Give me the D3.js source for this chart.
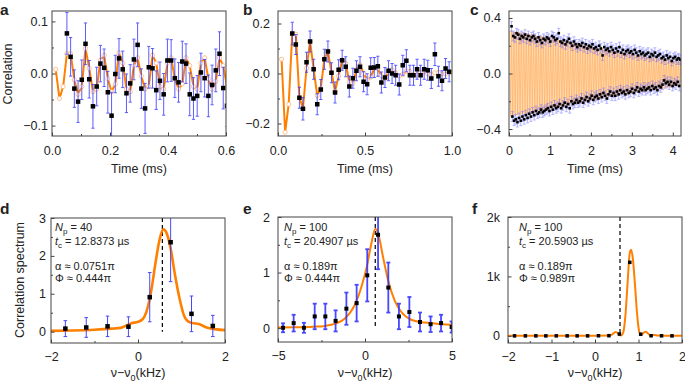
<!DOCTYPE html>
<html>
<head>
<meta charset="utf-8">
<script src="https://cdn.jsdelivr.net/npm/d3@7"></script>
<style>
body { margin: 0; background: #fff; }
svg text { font-family: "Liberation Sans", Arial, sans-serif; fill: #222; }
</style>
</head>
<body>
<svg id="fig" width="685" height="384"></svg>
<script>
// sampling intervals (ms) as printed in the panels
var tcA = 0.0128373, tcB = 0.0204907, tcC = 0.0205903;

// panel a : measured correlation from sample n=4, model from n=1
var aData = [0.077,0.032,-0.029,-0.054,-0.012,0.057,-0.011,-0.063,-0.025,0.019,0.011,-0.036,-0.081,-0.001,0.029,0.008,-0.038,-0.019,0.027,0.055,-0.029,-0.067,0.012,0.010,-0.032,-0.014,-0.040,0.025,0.025,-0.009,-0.017,0.023,0.019,-0.040,-0.048,-0.043,0.002,-0.009,-0.043,-0.022,0.006,0.038,-0.028,-0.062];
var aErr = [0.040,0.037,0.036,0.040,0.038,0.040,0.036,0.042,0.037,0.035,0.036,0.040,0.045,0.036,0.038,0.035,0.037,0.036,0.039,0.042,0.038,0.048,0.040,0.038,0.037,0.036,0.040,0.041,0.040,0.037,0.038,0.039,0.038,0.041,0.040,0.039,0.037,0.036,0.040,0.038,0.041,0.042,0.040,0.040];
var aModel = [0.008,-0.048,-0.025,0.038,0.038,-0.012,-0.040,-0.025,0.048,0.010,-0.035,-0.030,0.025,0.035,-0.010,-0.035,-0.020,0.040,0.020,-0.030,-0.035,0.015,0.030,-0.005,-0.030,-0.025,0.035,0.020,-0.025,-0.030,0.020,0.030,-0.010,-0.030,-0.020,0.030,0.015,-0.025,-0.030,0.020,0.030,-0.010,-0.030,-0.015,0.030,0.015,-0.025];

// panel b
var bData = [0.160,0.116,-0.097,-0.141,0.045,0.128,0.017,-0.123,-0.064,0.057,0.088,0.003,-0.076,0.015,0.053,0.027,-0.052,-0.019,0.011,0.027,-0.033,-0.043,0.023,0.024,0.029,-0.036,-0.016,0.011,0.000,-0.007,-0.044,0.033,0.051,-0.007,-0.007,0.017,-0.007,0.017,0.013,-0.020,0.077,-0.011,-0.029,0.020,0.007];
var bErr = [0.045,0.040,0.042,0.045,0.040,0.042,0.040,0.042,0.040,0.040,0.042,0.040,0.042,0.040,0.040,0.040,0.042,0.040,0.040,0.040,0.040,0.042,0.040,0.040,0.040,0.042,0.040,0.040,0.040,0.040,0.042,0.040,0.044,0.040,0.040,0.040,0.040,0.040,0.040,0.040,0.045,0.040,0.040,0.040,0.040];
var bModel = [0.057,-0.235,-0.123,0.161,0.157,-0.096,-0.139,0.021,0.128,0.018,-0.088,-0.059,0.058,0.088,0.005,-0.072,-0.010,0.054,0.040,-0.035,-0.040,0.015,0.035,0.000,-0.025,-0.015,0.020,0.020,-0.010,-0.020,0.005,0.015,0.002,-0.010,-0.005,0.010,0.008,-0.005,-0.006,0.004,0.006,-0.002,-0.004,0.003,0.004,-0.002,-0.002,0.002,0.002];

// panel c : upper points at odd samples from n=3, lower at even samples from n=4
var cUp = [0.34,0.27,0.26,0.29,0.28,0.25,0.27,0.26,0.28,0.25,
  0.27,0.24,0.26,0.27,0.25,0.23,0.26,0.24,0.22,0.25,
  0.24,0.26,0.25,0.23,0.27,0.26,0.24,0.25,0.29,0.23,
  0.22,0.24,0.21,0.23,0.25,0.22,0.20,0.23,0.21,0.19,
  0.21,0.20,0.22,0.19,0.21,0.18,0.20,0.19,0.21,0.18,
  0.19,0.17,0.20,0.18,0.13,0.19,0.17,0.18,0.16,0.19,
  0.17,0.15,0.18,0.16,0.19,0.15,0.17,0.14,0.16,0.17,
  0.15,0.16,0.14,0.17,0.15,0.13,0.16,0.14,0.15,0.13,
  0.14,0.15,0.12,0.14,0.13,0.15,0.12,0.13,0.14,0.11,
  0.12,0.10,0.13,0.11,0.12,0.09,0.11,0.12,0.10,0.11,
  0.10];
var cLow = [-0.31,-0.34,-0.33,-0.35,-0.32,-0.34,-0.31,-0.33,-0.30,-0.32,
  -0.29,-0.31,-0.28,-0.30,-0.27,-0.29,-0.28,-0.26,-0.28,-0.27,
  -0.26,-0.25,-0.27,-0.24,-0.26,-0.23,-0.25,-0.24,-0.22,-0.25,
  -0.23,-0.21,-0.24,-0.22,-0.25,-0.20,-0.22,-0.21,-0.19,-0.21,
  -0.20,-0.18,-0.21,-0.19,-0.17,-0.20,-0.18,-0.16,-0.19,-0.17,
  -0.16,-0.18,-0.15,-0.17,-0.14,-0.16,-0.18,-0.15,-0.13,-0.16,
  -0.14,-0.16,-0.13,-0.15,-0.12,-0.14,-0.13,-0.15,-0.12,-0.14,
  -0.13,-0.11,-0.14,-0.12,-0.10,-0.13,-0.11,-0.12,-0.10,-0.12,
  -0.11,-0.10,-0.12,-0.09,-0.11,-0.10,-0.12,-0.09,-0.10,-0.08,
  -0.05,-0.07,-0.06,-0.08,-0.06,-0.09,-0.07,-0.08,-0.06,-0.09];
var cErr = 0.035;
var cModel = [
  .31,-.31,.31,-.31,.30,-.30,.30,-.30,.30,-.30,.30,-.30,.30,-.30,.29,-.29,.29,-.29,.29,-.29,
  .29,-.29,.29,-.29,.28,-.28,.28,-.28,.28,-.28,.28,-.28,.27,-.27,.27,-.27,.27,-.27,.27,-.27,
  .27,-.27,.26,-.26,.26,-.26,.26,-.26,.25,-.25,.25,-.25,.25,-.25,.25,-.25,.24,-.24,.24,-.24,
  .24,-.24,.24,-.24,.23,-.23,.23,-.23,.23,-.23,.23,-.23,.22,-.22,.22,-.22,.22,-.22,.22,-.22,
  .22,-.22,.21,-.21,.21,-.21,.21,-.21,.20,-.20,.20,-.20,.20,-.20,.20,-.20,.19,-.19,.19,-.19,
  .19,-.19,.19,-.19,.18,-.18,.18,-.18,.18,-.18,.18,-.18,.17,-.17,.17,-.17,.17,-.17,.17,-.17,
  .17,-.17,.16,-.16,.16,-.16,.16,-.16,.16,-.16,.15,-.15,.15,-.15,.15,-.15,.15,-.15,.15,-.15,
  .15,-.15,.14,-.14,.14,-.14,.14,-.14,.14,-.14,.13,-.13,.13,-.13,.13,-.13,.13,-.13,.13,-.13,
  .13,-.13,.12,-.12,.12,-.12,.12,-.12,.12,-.12,.12,-.12,.11,-.11,.11,-.11,.11,-.11,.11,-.11,
  .11,-.11,.11,-.11,.10,-.10,.10,-.10,.10,-.10,.10,-.10,.10,-.10,.09,-.09,.09,-.09,.09,-.09,
  .09,-.09,.09,-.09];

// panel d
var dFreq = [-1.67,-1.19,-0.70,-0.22,0.27,0.75,1.23,1.72];
var dVal = [0.08,0.11,0.14,0.13,0.91,2.36,0.47,0.15];
var dErr = [0.21,0.26,0.27,0.26,0.65,1.04,0.47,0.28];
var dFitX = [-2,-1.5,-1.0,-0.6,-0.4,-0.25,-0.15,0.0,0.1,0.2,0.3,0.4,0.5,0.58,0.65,0.75,0.85,0.95,1.05,1.15,1.25,1.4,1.6,1.8,2.0];
var dFitY = [0.02,0.03,0.05,0.08,0.1,0.17,0.22,0.26,0.32,0.55,1.05,1.8,2.45,2.7,2.62,2.2,1.5,0.9,0.45,0.27,0.23,0.2,0.1,0.06,0.04];

// panel e
var eFreq = [-4.71,-4.10,-3.51,-2.89,-2.28,-1.69,-1.07,-0.48,0.13,0.75,1.34,1.95,2.55,3.16,3.77,4.37,4.98];
var eVal = [0.006,0.09,0.006,0.21,0.21,0.13,0.35,0.45,0.95,1.68,0.73,0.21,0.29,0.11,0.07,0.09,0.02];
var eErr = [0.08,0.15,0.09,0.23,0.23,0.19,0.29,0.33,0.47,0.62,0.45,0.23,0.27,0.17,0.14,0.15,0.10];
var eFitX = [-5,-4,-3,-2.3,-1.7,-1.17,-0.6,-0.2,0.1,0.35,0.6,0.8,1.03,1.32,1.7,2.09,2.66,3.2,3.8,4.4,5];
var eFitY = [0.01,0.015,0.025,0.04,0.08,0.17,0.41,0.75,1.1,1.5,1.79,1.65,1.29,0.87,0.5,0.29,0.15,0.11,0.09,0.07,0.06];

// panel f
var fFreq = [-1.85,-1.60,-1.36,-1.13,-0.89,-0.64,-0.41,-0.17,0.08,0.32,0.56,0.80,1.05,1.29,1.53,1.77];
var fVal = [0,0,0,0,0,0,0,0,2,3,30,1237,28,2,1,0];
var fFitX = [-2,-1,0,0.3,0.4,0.47,0.55,0.6,0.65,0.7,0.75,0.8,0.83,0.87,0.92,0.97,1.02,1.06,1.1,1.16,1.22,1.28,1.35,1.45,1.6,2];
var fFitY = [0,0,2,5,25,65,35,5,60,350,900,1400,1450,1300,850,350,60,10,40,70,40,5,15,5,2,0];

// dashed marker (kHz) and annotations
var markD = 0.56, markE = 0.59, markF = 0.575;
var annD = ["40", "12.8373", "0.0751", "0.444"];
var annE = ["100", "20.4907", "0.189", "0.444"];
var annF = ["100", "20.5903", "0.189", "0.989"];

var orange = "#ff8000", blue = "#3535ff";
var svg = d3.select("#fig");
var clipId = 0;

function panel(o) {
    var x = d3.scaleLinear().domain(o.xd).range([o.l, o.r]);
    var y = d3.scaleLinear().domain(o.yd).range([o.b, o.t]);
    var g = svg.append("g");
    clipId++;
    svg.append("clipPath").attr("id", "clip" + clipId)
        .append("rect").attr("x", o.l).attr("y", o.t).attr("width", o.r - o.l).attr("height", o.b - o.t);
    var inner = g.append("g").attr("clip-path", "url(#clip" + clipId + ")");

    g.append("g").attr("transform", "translate(0," + o.b + ")")
        .call(d3.axisBottom(x).tickValues(o.xt).tickSize(-3.5).tickPadding(o.xp || 10).tickFormat(o.xf));
    g.append("g").attr("transform", "translate(0," + o.b + ")")
        .call(d3.axisBottom(x).tickValues(o.xm).tickSize(-2).tickFormat(""));
    g.append("g").attr("transform", "translate(" + o.l + ",0)")
        .call(d3.axisLeft(y).tickValues(o.yt).tickSize(-3.5).tickPadding(o.yp).tickFormat(o.yf));
    g.append("g").attr("transform", "translate(" + o.l + ",0)")
        .call(d3.axisLeft(y).tickValues(o.ym).tickSize(-2).tickFormat(""));
    g.selectAll(".domain").remove();
    g.selectAll(".tick line").attr("stroke", "#444");
    g.selectAll(".tick text").style("font-size", "12.5px").attr("fill", "#222");

    g.append("rect").attr("x", o.l).attr("y", o.t).attr("width", o.r - o.l).attr("height", o.b - o.t)
        .attr("fill", "none").attr("stroke", "#444").attr("stroke-width", 1);

    svg.append("text").attr("x", o.lx).attr("y", o.ly).text(o.letter)
        .style("font-size", "15.5px").style("font-weight", "bold").attr("fill", "#000");
    return {x: x, y: y, g: inner, frame: g};
}

function errBars(p, pts, color, width, cap, opacity) {
    var eb = p.g.append("g").attr("stroke", color).attr("stroke-width", width).attr("opacity", opacity);
    pts.forEach(function (d) {
        var xx = p.x(d.x);
        eb.append("line").attr("x1", xx).attr("x2", xx).attr("y1", p.y(d.y - d.e)).attr("y2", p.y(d.y + d.e));
        eb.append("line").attr("x1", xx - cap).attr("x2", xx + cap).attr("y1", p.y(d.y + d.e)).attr("y2", p.y(d.y + d.e));
        eb.append("line").attr("x1", xx - cap).attr("x2", xx + cap).attr("y1", p.y(d.y - d.e)).attr("y2", p.y(d.y - d.e));
    });
}

function squares(p, pts, size, color) {
    p.g.selectAll(null).data(pts).enter().append("rect")
        .attr("x", function (d) { return p.x(d.x) - size / 2; })
        .attr("y", function (d) { return p.y(d.y) - size / 2; })
        .attr("width", size).attr("height", size)
        .attr("fill", color);
}

function timeLabel(p, cx) {
    p.frame.append("text").attr("x", cx).attr("y", 173).attr("text-anchor", "middle")
        .style("font-size", "12.5px").text("Time (ms)");
}

function freqLabel(p, cx) {
    var t = p.frame.append("text").attr("x", cx).attr("y", 377).attr("text-anchor", "middle")
        .style("font-size", "12.5px");
    t.append("tspan").text("ν−ν");
    t.append("tspan").attr("dy", 3.5).style("font-size", "9px").text("0");
    t.append("tspan").attr("dy", -3.5).text("(kHz)");
}

function annotate(p, x0, ann) {
    var g = p.frame.append("g").style("font-size", "11px");
    var t1 = g.append("text").attr("x", x0).attr("y", 231);
    t1.append("tspan").style("font-style", "italic").text("N");
    t1.append("tspan").attr("dy", 3).style("font-size", "8px").text("p");
    t1.append("tspan").attr("dy", -3).text(" = " + ann[0]);
    var t2 = g.append("text").attr("x", x0).attr("y", 245);
    t2.append("tspan").style("font-style", "italic").text("t");
    t2.append("tspan").attr("dy", 3).style("font-size", "8px").text("c");
    t2.append("tspan").attr("dy", -3).text(" = " + ann[1] + " µs");
    g.append("text").attr("x", x0).attr("y", 270).text("α ≈ " + ann[2] + "π");
    g.append("text").attr("x", x0).attr("y", 282).text("Φ ≈ " + ann[3] + "π");
}

function timeSeries(p, tc, first, data, err, model, sq) {
    var modelPts = model.map(function (v, i) { return {x: (i + 1) * tc, y: v}; });
    var dataPts = data.map(function (v, i) { return {x: (i + first) * tc, y: v, e: err[i]}; });
    p.g.append("path").datum(modelPts)
        .attr("d", d3.line().x(function (d) { return p.x(d.x); }).y(function (d) { return p.y(d.y); }))
        .attr("fill", "none").attr("stroke", orange).attr("stroke-width", 2);
    p.g.selectAll(null).data(modelPts).enter().append("circle")
        .attr("cx", function (d) { return p.x(d.x); })
        .attr("cy", function (d) { return p.y(d.y); })
        .attr("r", 2.1).attr("fill", "#fff").attr("stroke", "#ffb27a").attr("stroke-width", 0.8);
    errBars(p, dataPts, blue, 1, 1.6, 0.8);
    squares(p, dataPts, sq, "#000");
}

var f1 = d3.format(".1f");

// ---- a ----
var pa = panel({l: 52, r: 226, t: 11, b: 136, xd: [0, 0.6], yd: [-0.12, 0.12],
    xt: [0, 0.2, 0.4, 0.6], xm: [0.1, 0.3, 0.5], yt: [-0.1, 0, 0.1], ym: [-0.05, 0.05],
    xf: f1, yf: f1, yp: 4, letter: "a", lx: 0, ly: 14.5});
timeSeries(pa, tcA, 4, aData, aErr, aModel, 4.5);
timeLabel(pa, 139);
pa.frame.append("text").attr("transform", "translate(12,74) rotate(-90)").attr("text-anchor", "middle")
    .style("font-size", "12.5px").text("Correlation");

// ---- b ----
var pb = panel({l: 278, r: 452, t: 11, b: 136, xd: [0, 1], yd: [-0.25, 0.25],
    xt: [0, 0.5, 1], xm: [0.25, 0.75], yt: [-0.2, 0, 0.2], ym: [-0.1, 0.1],
    xf: f1, yf: f1, yp: 8, letter: "b", lx: 243, ly: 14.5});
timeSeries(pb, tcB, 4, bData, bErr, bModel, 4.5);
timeLabel(pb, 365);

// ---- c ----
var pc = panel({l: 509, r: 681, t: 11, b: 136, xd: [0, 4.2], yd: [-0.45, 0.45],
    xt: [0, 1, 2, 3, 4], xm: [0.5, 1.5, 2.5, 3.5], yt: [-0.4, 0, 0.4], ym: [-0.2, 0.2],
    xf: d3.format("d"), yf: f1, yp: 8, letter: "c", lx: 470, ly: 14.5});
var cModelPts = cModel.map(function (v, i) { return {x: (i + 1) * tcC, y: v}; });
pc.g.append("path").datum(cModelPts)
    .attr("d", d3.line().x(function (d) { return pc.x(d.x); }).y(function (d) { return pc.y(d.y); }))
    .attr("fill", "none").attr("stroke", "#ffb060").attr("stroke-width", 0.9).attr("opacity", 0.85);
var cPts = cUp.map(function (v, i) { return {x: (3 + 2 * i) * tcC, y: v, e: cErr}; })
    .concat(cLow.map(function (v, i) { return {x: (4 + 2 * i) * tcC, y: v, e: cErr}; }));
errBars(pc, cPts, "#6a6aff", 0.8, 1.5, 0.6);
squares(pc, cPts, 2.6, "#000");
timeLabel(pc, 595);

// ---- spectra ----
function spectrum(p, fx, fy, freq, val, err, mark, sq, ebw, cap, lw) {
    p.g.append("line").attr("x1", p.x(mark)).attr("x2", p.x(mark))
        .attr("y1", p.y(p.y.domain()[1])).attr("y2", p.y(0))
        .attr("stroke", "#000").attr("stroke-width", 1.2).attr("stroke-dasharray", "4,3");
    var fit = fx.map(function (v, i) { return {x: v, y: fy[i]}; });
    p.g.append("path").datum(fit)
        .attr("d", d3.line().curve(d3.curveMonotoneX)
            .x(function (d) { return p.x(d.x); }).y(function (d) { return p.y(d.y); }))
        .attr("fill", "none").attr("stroke", orange).attr("stroke-width", lw);
    var pts = freq.map(function (v, i) { return {x: v, y: val[i], e: err ? err[i] : 0}; });
    if (err) errBars(p, pts, blue, ebw, cap, 0.9);
    squares(p, pts, sq, "#000");
}

var pd = panel({l: 51, r: 225, t: 218, b: 343, xd: [-2, 2], yd: [-0.3, 3],
    xt: [-2, 0, 2], xm: [-1, 1], yt: [0, 1, 2, 3], ym: [0.5, 1.5, 2.5],
    xf: d3.format("d"), yf: d3.format("d"), xp: 9, yp: 5, letter: "d", lx: 0, ly: 214});
spectrum(pd, dFitX, dFitY, dFreq, dVal, dErr, markD, 4.5, 1, 1.8, 2.6);
annotate(pd, 55, annD);
freqLabel(pd, 138);
pd.frame.append("text").attr("transform", "translate(24,280) rotate(-90)").attr("text-anchor", "middle")
    .style("font-size", "12.5px").text("Correlation spectrum");

var pe = panel({l: 278, r: 452, t: 217, b: 342, xd: [-5, 5], yd: [-0.25, 2],
    xt: [-5, 0, 5], xm: [-2.5, 2.5], yt: [0, 1, 2], ym: [0.5, 1.5],
    xf: d3.format("d"), yf: d3.format("d"), xp: 9, yp: 8, letter: "e", lx: 243, ly: 214});
spectrum(pe, eFitX, eFitY, eFreq, eVal, eErr, markE, 4, 1.8, 2, 2);
annotate(pe, 284, annE);
freqLabel(pe, 365);

var pf = panel({l: 508, r: 682, t: 217, b: 343, xd: [-2, 2], yd: [-120, 2000],
    xt: [-2, -1, 0, 1, 2], xm: [-1.5, -0.5, 0.5, 1.5], yt: [0, 1000, 2000], ym: [500, 1500],
    xf: d3.format("d"), yf: function (d) { return d === 0 ? "0" : (d / 1000) + "k"; },
    xp: 9, yp: 8, letter: "f", lx: 472, ly: 214});
spectrum(pf, fFitX, fFitY, fFreq, fVal, null, markF, 3.5, 1, 1.5, 2);
annotate(pf, 519, annF);
freqLabel(pf, 595);
</script>
</body>
</html>
